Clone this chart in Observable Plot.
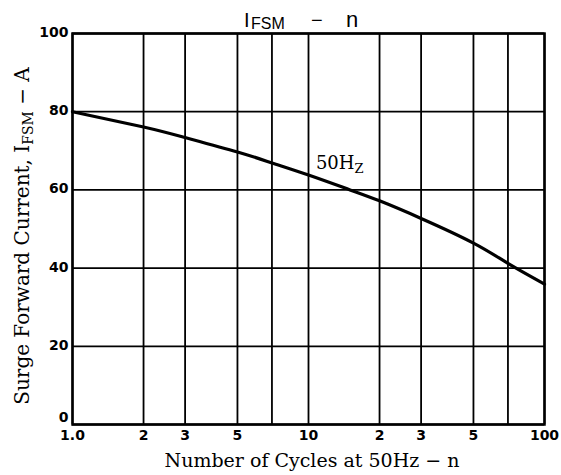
<!DOCTYPE html>
<html>
<head>
<meta charset="utf-8">
<script src="https://cdn.jsdelivr.net/npm/d3@7"></script>
<script src="https://cdn.jsdelivr.net/npm/@observablehq/plot@0.6"></script>
<style>
  html, body { margin: 0; padding: 0; background: white; }
</style>
</head>
<body>
<div id="chart"></div>
<script>
// Data
const cycles  = [1, 2, 3, 5, 7, 10, 15, 20, 30, 50, 70, 100];
const current = [80, 76.1, 73.4, 69.7, 66.9, 63.8, 60, 57.2, 52.7, 46.4, 41.2, 35.9];
const xTicks = [1, 2, 3, 5, 7, 10, 20, 30, 50, 70, 100];
const xTickLabels = ["1.0", "2", "3", "5", "7", "10", "2", "3", "5", "7", "100"];
const yTicks = [0, 20, 40, 60, 80, 100];
const yTicksUpper = [20, 40, 60, 80, 100];
const yTickZero = [0];
const seriesLabel = {n: 10.8, v: 65.2, main: "50H", sub: "Z"};

const data = cycles.map((n, i) => ({n, i: current[i]}));
const xLabelMap = new Map(xTicks.map((t, i) => [t, xTickLabels[i]]));

const plot = Plot.plot({
  width: 561,
  height: 475,
  marginLeft: 72,
  marginRight: 17,
  marginTop: 33,
  marginBottom: 51,
  style: {background: "white", color: "black", fontFamily: "DejaVu Sans", fontSize: "14px", overflow: "visible"},
  x: {type: "log", domain: [1, 100]},
  y: {domain: [0, 100]},
  marks: [
    Plot.ruleX(xTicks, {stroke: "black", strokeWidth: 1.8}),
    Plot.ruleY(yTicks, {stroke: "black", strokeWidth: 1.8}),
    Plot.frame({stroke: "black", strokeWidth: 2.5}),
    Plot.line(data, {x: "n", y: "i", curve: "natural", stroke: "black", strokeWidth: 3.2}),
    Plot.axisX({ticks: xTicks, tickFormat: d => xLabelMap.get(d), tickSize: 0, tickPadding: 6, label: null, fontWeight: "bold", fontSize: 14}),
    Plot.axisY({ticks: yTicksUpper, tickSize: 0, tickPadding: 4, label: null, fontWeight: "bold", fontSize: 14, dy: -1}),
    Plot.axisY({ticks: yTickZero, tickSize: 0, tickPadding: 4, label: null, fontWeight: "bold", fontSize: 14, dy: -7})
  ]
});

document.getElementById("chart").appendChild(plot);

const svg = d3.select(plot);
const xs = plot.scale("x"), ys = plot.scale("y");

// Title
const title = svg.append("text")
  .attr("font-family", "Liberation Sans")
  .attr("font-weight", "normal")
  .attr("text-anchor", "start")
  .attr("fill", "black")
  .attr("y", 27);
title.append("tspan").attr("x", 244).attr("font-size", 20).text("I");
title.append("tspan").attr("x", 251).attr("dy", 2).attr("font-size", 16).text("FSM");
title.append("tspan").attr("x", 311).attr("dy", -2).attr("font-size", 20).text("−");
title.append("tspan").attr("x", 346).attr("font-size", 22).text("n");

// X-axis title
svg.append("text")
  .attr("x", 312).attr("y", 467)
  .attr("text-anchor", "middle")
  .attr("font-family", "DejaVu Serif")
  .attr("font-weight", "normal")
  .attr("font-size", 19)
  .attr("fill", "black")
  .text("Number of Cycles at 50Hz − n");

// Y-axis title
const yt = svg.append("text")
  .attr("transform", "translate(29,236) rotate(-90)")
  .attr("text-anchor", "middle")
  .attr("font-family", "DejaVu Serif")
  .attr("font-weight", "normal")
  .attr("font-size", 20)
  .attr("fill", "black");
yt.append("tspan").text("Surge Forward Current, I");
yt.append("tspan").attr("dy", 4).attr("font-size", 14).text("FSM");
yt.append("tspan").attr("dy", -4).text(" − A");

// Series label
const sl = svg.append("text")
  .attr("x", xs.apply(seriesLabel.n))
  .attr("y", ys.apply(seriesLabel.v))
  .attr("text-anchor", "start")
  .attr("font-family", "DejaVu Serif")
  .attr("font-weight", "normal")
  .attr("font-size", 18)
  .attr("fill", "black");
sl.append("tspan").text(seriesLabel.main);
sl.append("tspan").attr("dy", 4).attr("font-size", 13).text(seriesLabel.sub);
</script>
</body>
</html>
